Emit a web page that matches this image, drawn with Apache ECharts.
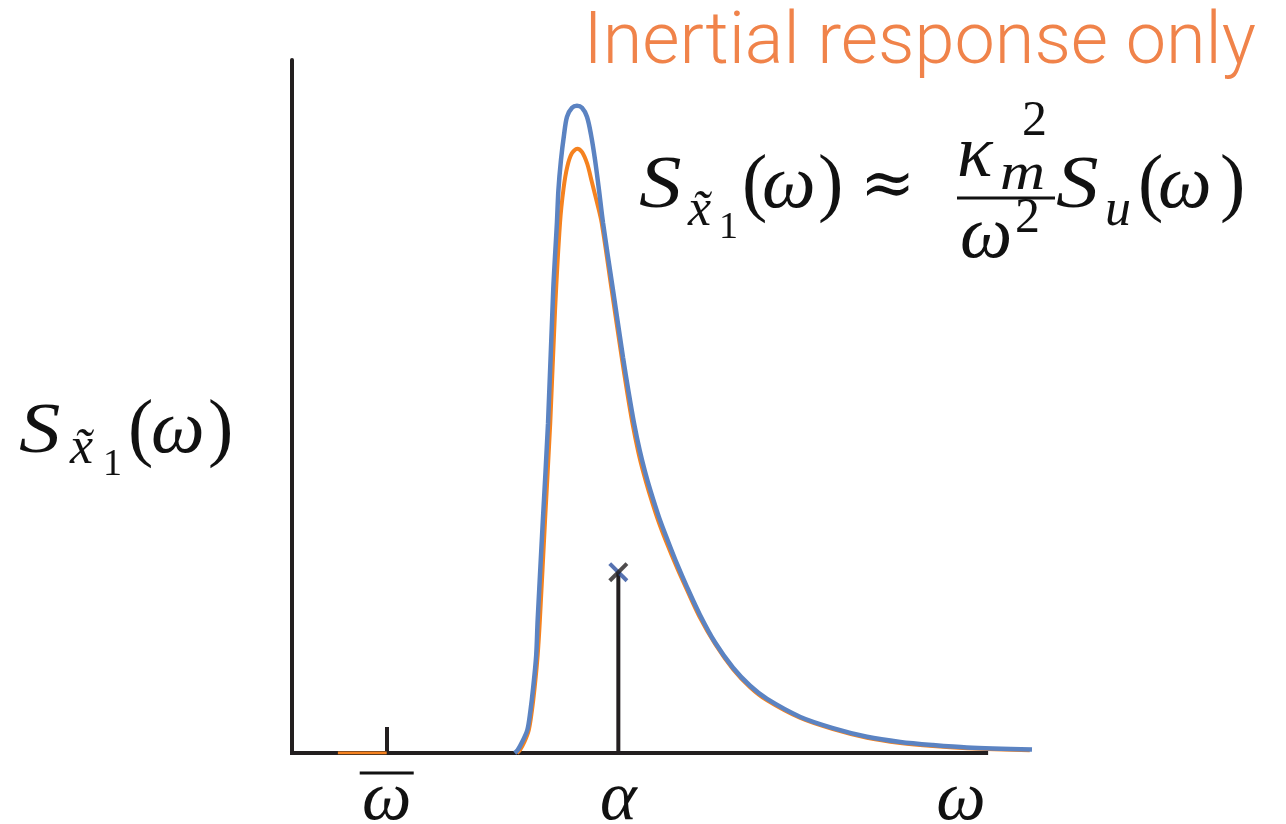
<!DOCTYPE html>
<html>
<head>
<meta charset="utf-8">
<script src="https://cdn.jsdelivr.net/npm/echarts@6/dist/echarts.min.js"></script>
<style>
  html, body { margin: 0; padding: 0; background: #ffffff; }
  #chart { width: 1286px; height: 824px; }
</style>
</head>
<body>
<div id="chart"></div>
<script>
// Frequency positions on the ω axis
const omegaBar = 1.28;      // mean frequency ω̄
const alpha = 4.41;         // resonance α
const omegaLabelAt = 9.04;  // axis name position ω
const axisEnd = 9.38;       // where the horizontal axis line stops
const stemHeight = 26.1;    // height of the spectral line at α

// Tick label texts
const tickLabels = ['ω', 'α', 'ω'];

// Full response spectrum [ω, S]
const blueCurve = [
  [3.01, 0], [3.05, 0.43], [3.11, 1.59], [3.18, 3.32], [3.22, 5.92], [3.26, 9.52],
  [3.30, 14.1], [3.32, 19.2], [3.39, 33.6], [3.46, 47.6], [3.53, 66.8], [3.58, 76.5],
  [3.60, 81.2], [3.635, 85.6], [3.676, 89.2], [3.716, 91.8], [3.784, 93.1], [3.851, 93.4],
  [3.919, 93.1], [3.986, 91.8], [4.041, 89.2], [4.095, 85.6], [4.149, 81.2], [4.203, 76.5],
  [4.338, 66.8], [4.473, 57.1], [4.55, 52.0], [4.622, 47.6], [4.70, 43.6], [4.77, 40.6],
  [4.84, 38.0], [4.96, 34.0], [5.08, 30.6], [5.21, 27.1], [5.34, 23.9], [5.51, 20.0],
  [5.72, 15.9], [5.96, 12.3], [6.19, 9.7], [6.42, 7.8], [6.87, 5.2], [7.31, 3.6],
  [7.77, 2.35], [8.22, 1.6], [8.66, 1.15], [9.12, 0.8], [10.0, 0.5]
];

// Inertial-only spectrum [ω, S]
const orangeCurve = [
  [3.04, 0], [3.08, 0.43], [3.14, 1.59], [3.20, 3.32], [3.24, 5.92], [3.28, 9.52],
  [3.32, 14.1], [3.35, 19.2], [3.42, 33.6], [3.49, 47.6], [3.555, 63.9], [3.622, 76.5],
  [3.67, 81.5], [3.72, 84.6], [3.78, 86.5], [3.855, 87.2], [3.92, 86.7], [3.99, 85.0],
  [4.05, 82.5], [4.12, 79.5], [4.185, 76.5], [4.32, 66.8], [4.455, 57.1], [4.53, 52.0],
  [4.60, 47.6], [4.68, 43.4], [4.75, 40.4], [4.82, 37.8], [4.94, 33.8], [5.06, 30.4],
  [5.20, 26.8], [5.33, 23.7], [5.50, 19.8], [5.72, 15.7], [5.96, 12.1], [6.19, 9.5],
  [6.42, 7.6], [6.87, 5.05], [7.31, 3.45], [7.77, 2.2], [8.22, 1.45], [8.66, 1.0],
  [9.12, 0.7], [9.97, 0.4]
];

// Short piece of the inertial spectrum lying on the axis below ω̄
const orangeFloor = [[0.62, 0], [1.28, 0]];

const INK = '#231f20';
const BLUE = '#5b83c2';
const ORANGE = '#f5821f';
const TITLE = '#f0834a';
const SERIF = '"Liberation Serif", "DejaVu Serif", serif';

// Text placed by its baseline (canvas "middle" sits ~0.34em above the baseline)
function txt(s, x, base, size, italic, opts) {
  opts = opts || {};
  return {
    type: 'text', x: x, y: base - 0.34 * size, silent: true,
    scaleX: opts.sx || 1,
    style: {
      text: s, fontFamily: opts.font || SERIF, fontSize: size,
      fontStyle: italic ? 'italic' : 'normal',
      fill: '#111', align: 'left', verticalAlign: 'middle'
    }
  };
}

const graphics = [
  // title
  {
    type: 'text', x: 1256, y: 69 - 0.34 * 72, silent: true,
    style: {
      text: 'Inertial response only', fontFamily: 'Roboto', fontWeight: 300,
      fontSize: 72, fill: TITLE, align: 'right', verticalAlign: 'middle'
    }
  },
  // y-axis name  S_{x̃1}(ω)
  txt('S', 19, 458, 72, true, { sx: 1.15 }),
  txt('x\u0303', 70, 467, 52, true),
  txt('1', 103, 478, 38, false),
  txt('(', 128, 458, 76, false),
  txt('ω', 151, 458, 76, true),
  txt(')', 208, 458, 76, false),
  // formula  S_{x̃1}(ω) ≈ κ_m² / ω² · S_u(ω)
  txt('S', 639, 213, 74, true, { sx: 1.15 }),
  txt('x\u0303', 688, 229, 52, true),
  txt('1', 719, 241, 38, false),
  txt('(', 742, 213, 76, false),
  txt('ω', 762, 213, 76, true),
  txt(')', 818, 213, 76, false),
  txt('≈', 860, 210, 66, false, { font: '"DejaVu Serif", serif' }),
  txt('κ', 957, 182, 74, true),
  txt('2', 1022, 139, 50, false),
  txt('m', 1000, 193, 52, true, { sx: 1.2 }),
  {
    type: 'line', silent: true,
    shape: { x1: 957, y1: 198, x2: 1055, y2: 198 },
    style: { stroke: '#111', lineWidth: 3 }
  },
  txt('ω', 960, 263, 74, true),
  txt('2', 1015, 236, 50, false),
  txt('S', 1056, 213, 74, true, { sx: 1.15 }),
  txt('u', 1105, 229, 52, true),
  txt('(', 1138, 213, 76, false),
  txt('ω', 1158, 213, 76, true),
  txt(')', 1220, 213, 76, false)
];

const chart = echarts.init(document.getElementById('chart'));
chart.setOption({
  animation: false,
  backgroundColor: '#ffffff',
  grid: { left: 292, right: 254, top: 60, bottom: 71, containLabel: false, outerBoundsMode: 'none' },
  xAxis: {
    type: 'value', min: 0, max: 10,
    axisLine: { show: false },
    splitLine: { show: false },
    axisTick: {
      show: true, inside: true, length: 26, customValues: [omegaBar],
      lineStyle: { color: INK, width: 4 }
    },
    axisLabel: {
      show: true, customValues: [omegaBar, alpha, omegaLabelAt], margin: 17,
      formatter: function (v) {
        if (Math.abs(v - omegaBar) < 1e-6) return '{bar|}\n{w|' + tickLabels[0] + '}';
        if (Math.abs(v - alpha) < 1e-6) return '{nobar|}\n{w|' + tickLabels[1] + '}';
        return '{nobar|}\n{w|' + tickLabels[2] + '}';
      },
      rich: {
        bar: { width: 54, height: 3, backgroundColor: '#111', lineHeight: 6 },
        nobar: { width: 1, height: 3, lineHeight: 6 },
        w: { fontFamily: SERIF, fontStyle: 'italic', fontSize: 70, color: '#111', lineHeight: 50 }
      }
    }
  },
  yAxis: {
    type: 'value', min: 0, max: 100,
    axisLine: { show: true, lineStyle: { color: INK, width: 4 } },
    axisTick: { show: false }, axisLabel: { show: false }, splitLine: { show: false }
  },
  graphic: graphics,
  series: [
    {
      name: 'axis', type: 'line', data: [[0, 0], [axisEnd, 0]], symbol: 'none', z: 1,
      lineStyle: { color: INK, width: 4, cap: 'square' }, silent: true
    },
    {
      name: 'line at α', type: 'line', data: [[alpha, 0], [alpha, stemHeight]], symbol: 'none', z: 2,
      lineStyle: { color: INK, width: 4 }, silent: true
    },
    {
      name: 'inertial floor', type: 'line', data: orangeFloor, symbol: 'none', z: 3,
      lineStyle: { color: ORANGE, width: 3 }, silent: true
    },
    {
      name: 'inertial', type: 'line', data: orangeCurve, symbol: 'none', z: 3,
      smooth: 0.3,
      lineStyle: { color: ORANGE, width: 4 }, silent: true
    },
    {
      name: 'full', type: 'line', data: blueCurve, symbol: 'none', z: 4,
      smooth: 0.3,
      lineStyle: { color: BLUE, width: 4.5 }, silent: true
    },
    {
      name: 'cross a', type: 'scatter', data: [[alpha, stemHeight]], z: 6, silent: true,
      symbol: 'path://M0,1.4L1.4,0L10,8.6L8.6,10Z', symbolSize: 20,
      itemStyle: { color: '#2c4f9e' }
    },
    {
      name: 'cross b', type: 'scatter', data: [[alpha, stemHeight]], z: 7, silent: true,
      symbol: 'path://M0,8.6L8.6,0L10,1.4L1.4,10Z', symbolSize: 20,
      itemStyle: { color: INK }
    }
  ]
});
</script>
</body>
</html>
